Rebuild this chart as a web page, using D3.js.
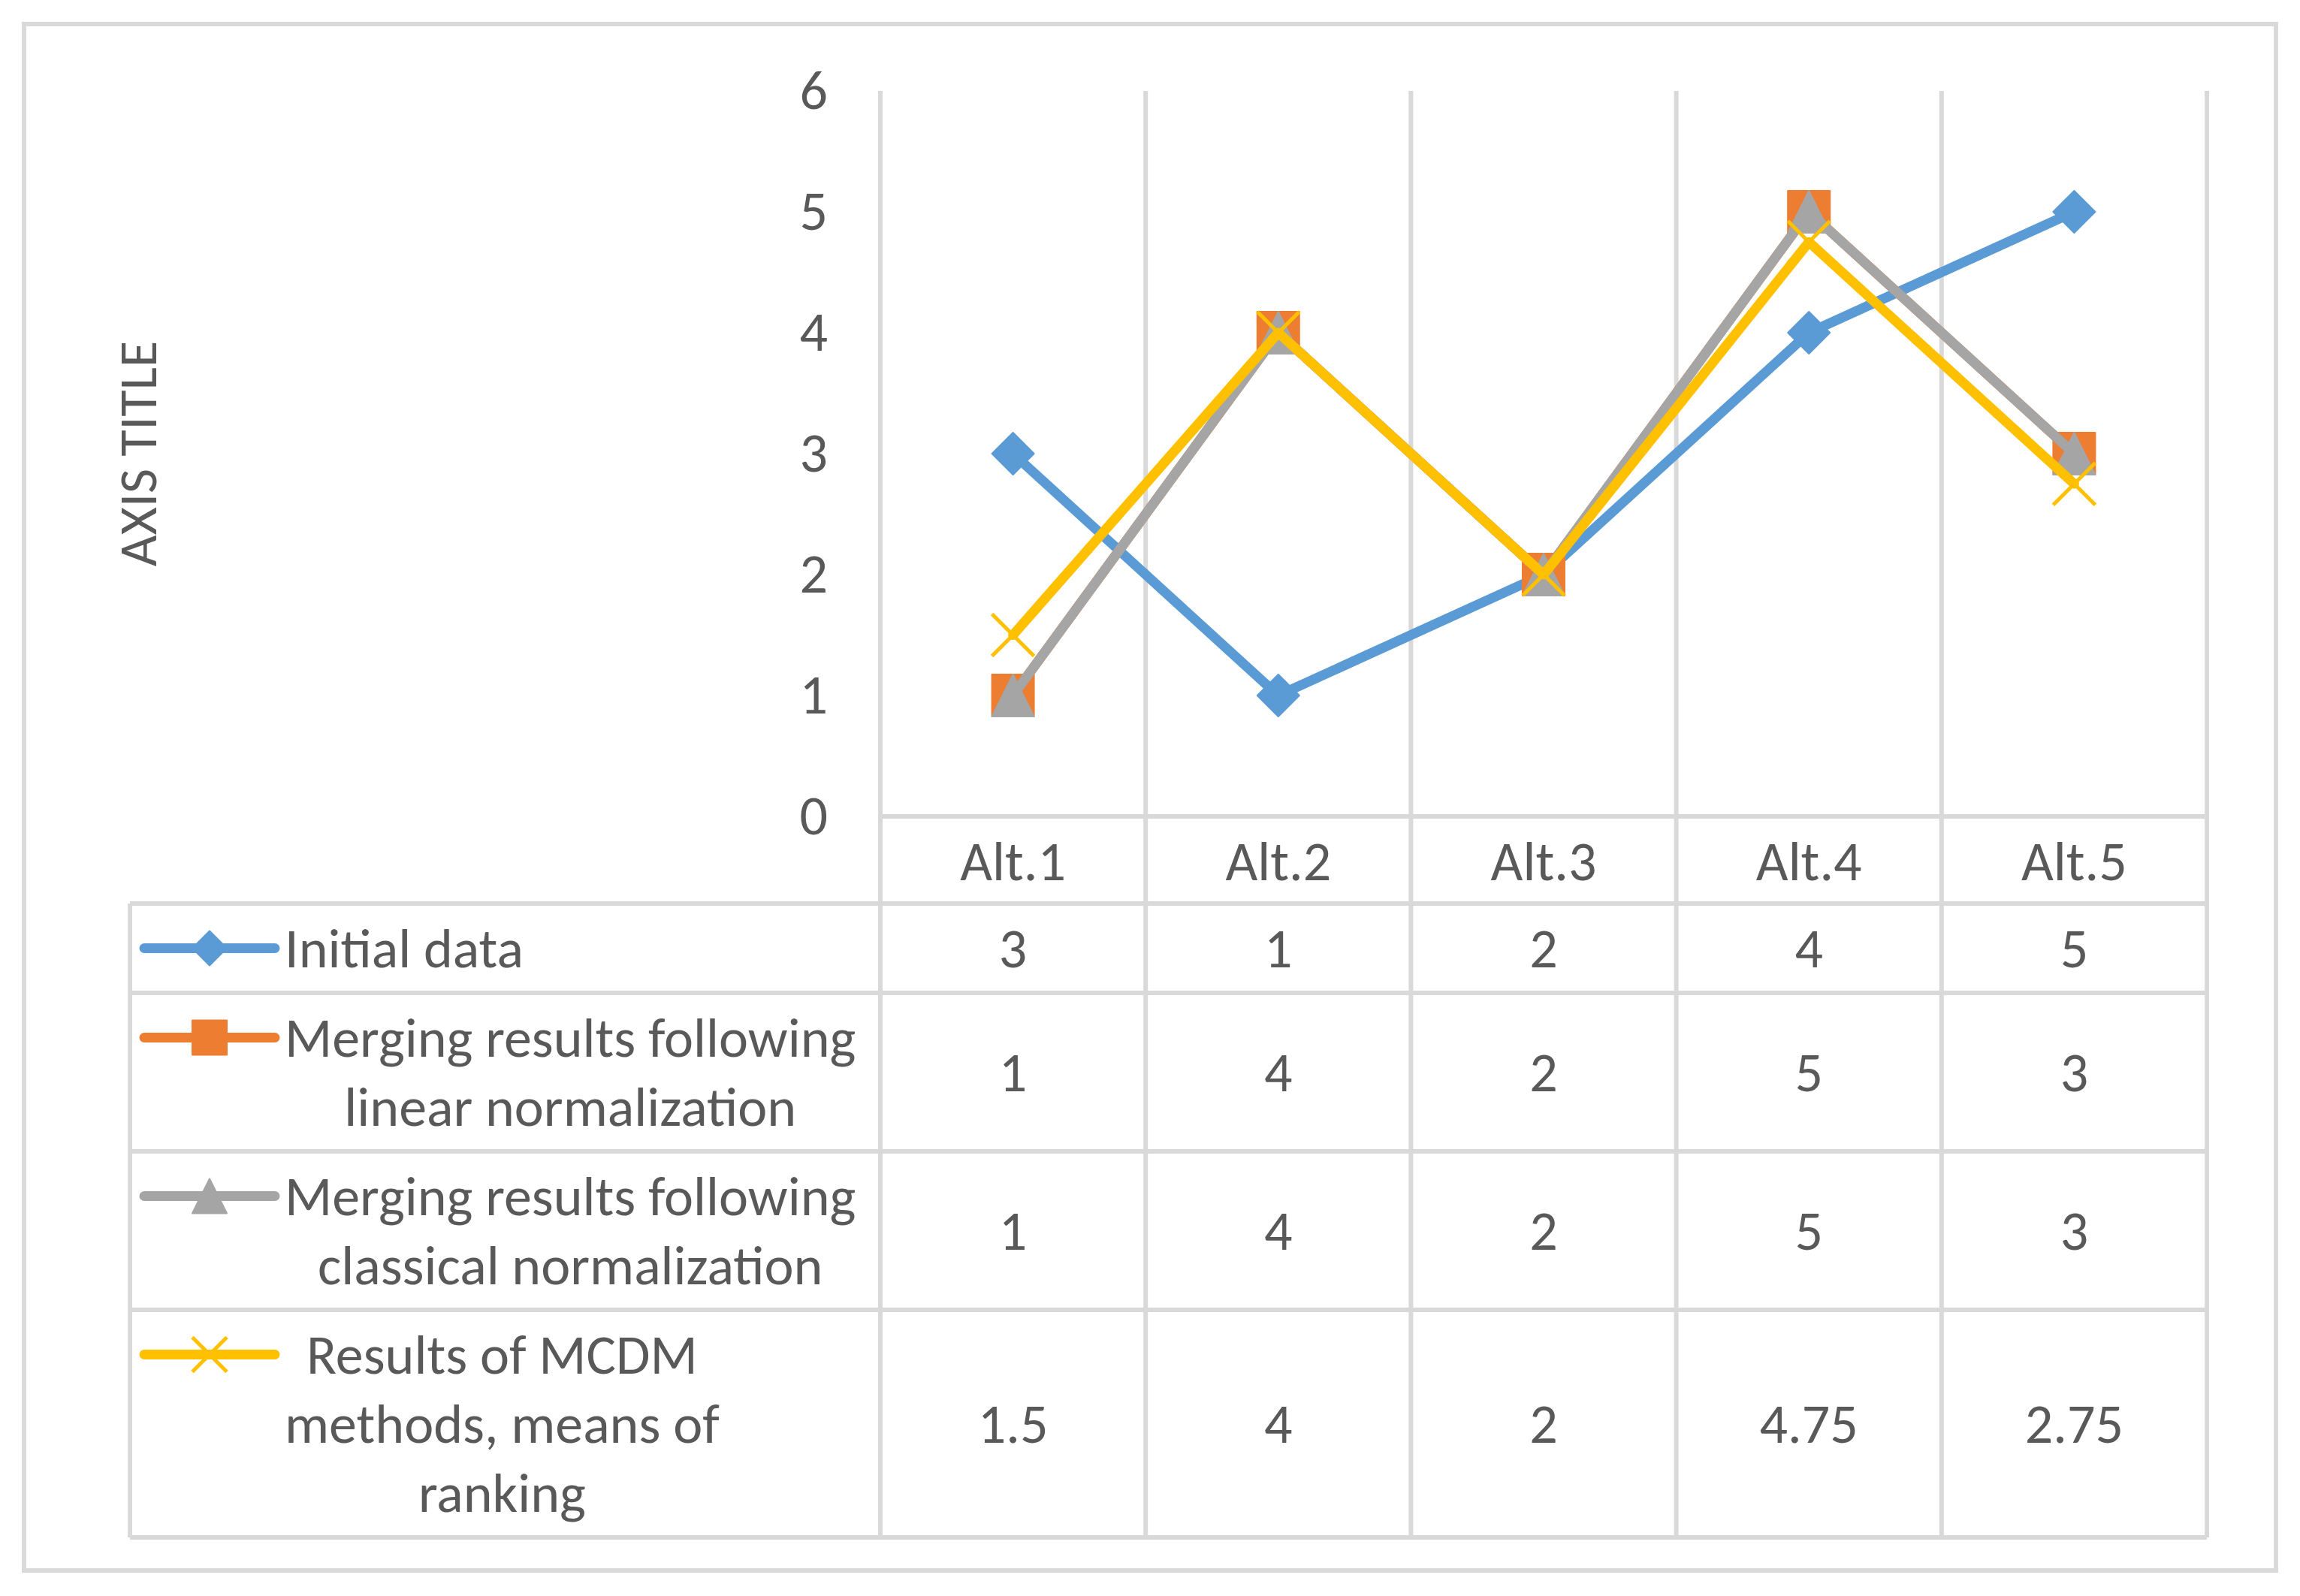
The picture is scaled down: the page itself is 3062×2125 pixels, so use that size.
<!DOCTYPE html>
<html>
<head>
<meta charset="utf-8">
<script src="https://cdn.jsdelivr.net/npm/d3@7"></script>
<style>
  body { margin: 0; background: #fff; }
  svg text { font-family: Carlito, Calibri, Lato, sans-serif; fill: #595959; }
</style>
</head>
<body>
<div id="chart"></div>
<script>
// chart values
var categories = ["Alt.1", "Alt.2", "Alt.3", "Alt.4", "Alt.5"];
var yTicks = [0, 1, 2, 3, 4, 5, 6];
var initialData = [3, 1, 2, 4, 5];
var linearNorm = [1, 4, 2, 5, 3];
var classicalNorm = [1, 4, 2, 5, 3];
var mcdmMeans = [1.5, 4, 2, 4.75, 2.75];
var labelLines = [
    ["Initial data"],
    ["Merging results following", "linear normalization"],
    ["Merging results following", "classical normalization"],
    ["Results of MCDM", "methods, means of", "ranking"]
];
var seriesColors = ["#5B9BD5", "#ED7D31", "#A5A5A5", "#FFC000"];
var seriesMarkers = ["diamond", "square", "triangle", "cross"];
var seriesValues = [initialData, linearNorm, classicalNorm, mcdmMeans];

var W = 3062, H = 2125;
var grid = "#D9D9D9";
var fontSize = 74;
var lineH = 92;

var svg = d3.select("#chart").append("svg")
    .attr("width", W)
    .attr("height", H);

// outer chart border
svg.append("rect")
    .attr("x", 32).attr("y", 32)
    .attr("width", 2998).attr("height", 2059)
    .attr("fill", "none")
    .attr("stroke", grid)
    .attr("stroke-width", 6);

var x = d3.scaleBand().domain(categories).range([1172, 2938]);
var y = d3.scaleLinear().domain([0, 6]).range([1087, 121]);

// rows of the data table
var tableTop = 1203;
var rows = [];
var acc = tableTop;
labelLines.forEach(function(lines, i) {
    var h = lineH * lines.length + 27;
    rows.push({ top: acc, h: h, lines: lines, i: i });
    acc += h;
});
var tableBottom = acc;

// vertical gridlines (category boundaries), running down through the table
var bounds = categories.map(function(c) { return x(c); }).concat([x.range()[1]]);
svg.append("g").selectAll("line")
    .data(bounds)
    .enter().append("line")
    .attr("x1", d => d).attr("x2", d => d)
    .attr("y1", y(6)).attr("y2", tableBottom)
    .attr("stroke", grid).attr("stroke-width", 6);

// x axis line
svg.append("line")
    .attr("x1", x.range()[0]).attr("x2", x.range()[1])
    .attr("y1", y(0)).attr("y2", y(0))
    .attr("stroke", grid).attr("stroke-width", 6);

// table horizontal lines + left border
var hLines = [tableTop].concat(rows.map(r => r.top + r.h));
svg.append("g").selectAll("line")
    .data(hLines)
    .enter().append("line")
    .attr("x1", 173).attr("x2", x.range()[1])
    .attr("y1", d => d).attr("y2", d => d)
    .attr("stroke", grid).attr("stroke-width", 6);
svg.append("line")
    .attr("x1", 173).attr("x2", 173)
    .attr("y1", tableTop).attr("y2", tableBottom)
    .attr("stroke", grid).attr("stroke-width", 6);

// y axis labels
var yAxis = svg.append("g")
    .attr("transform", "translate(" + x.range()[0] + ",0)")
    .call(d3.axisLeft(y).tickValues(yTicks).tickFormat(d3.format("d")).tickSize(0).tickPadding(70));
yAxis.select(".domain").remove();
yAxis.selectAll("text")
    .attr("font-size", fontSize)
    .attr("fill", "#595959");
yAxis.attr("font-family", null);

// category labels
var xAxis = svg.append("g")
    .attr("transform", "translate(0," + y(0) + ")")
    .call(d3.axisBottom(x).tickSize(0).tickPadding(0));
xAxis.select(".domain").remove();
xAxis.attr("font-family", null);
xAxis.selectAll("text")
    .attr("y", 59)
    .attr("dy", "0.35em")
    .attr("font-size", fontSize)
    .attr("fill", "#595959");

// axis title
svg.append("text")
    .attr("transform", "translate(183," + (y(3)) + ") rotate(-90)")
    .attr("text-anchor", "middle")
    .attr("dy", "0.35em")
    .attr("font-size", fontSize - 2)
    .text("AXIS TITLE");

// marker shapes
function markerPath(type, s) {
    var h = s / 2;
    if (type === "diamond") return "M0," + (-h) + "L" + h + ",0L0," + h + "L" + (-h) + ",0Z";
    if (type === "square") return "M" + (-h) + "," + (-h) + "H" + h + "V" + h + "H" + (-h) + "Z";
    if (type === "triangle") return "M0," + (-h) + "L" + h + "," + h + "L" + (-h) + "," + h + "Z";
    return "M" + (-h) + "," + (-h) + "L" + h + "," + h + "M" + h + "," + (-h) + "L" + (-h) + "," + h;
}
function drawMarker(g, type, color, s) {
    var p = g.append("path").attr("d", markerPath(type, s));
    if (type === "cross") {
        p.attr("fill", "none").attr("stroke", color).attr("stroke-width", 5);
    } else {
        p.attr("fill", color).attr("stroke", color).attr("stroke-width", 2).attr("stroke-linejoin", "round");
    }
}

// series lines and markers
var line = d3.line()
    .x((d, i) => x(categories[i]) + x.bandwidth() / 2)
    .y(d => y(d));

seriesValues.forEach(function(vals, si) {
    var g = svg.append("g");
    g.append("path")
        .datum(vals)
        .attr("d", line)
        .attr("fill", "none")
        .attr("stroke", seriesColors[si])
        .attr("stroke-width", 13)
        .attr("stroke-linejoin", "round")
        .attr("stroke-linecap", "round");
    vals.forEach(function(v, i) {
        var mg = g.append("g")
            .attr("transform", "translate(" + (x(categories[i]) + x.bandwidth() / 2) + "," + y(v) + ")");
        drawMarker(mg, seriesMarkers[si], seriesColors[si], 56);
    });
});

// table rows: legend key, label text, values
rows.forEach(function(r) {
    var si = r.i;
    var cy = r.top + r.h / 2;
    var firstY = cy - (r.lines.length - 1) * lineH / 2;

    var key = svg.append("g");
    key.append("line")
        .attr("x1", 192).attr("x2", 366)
        .attr("y1", firstY).attr("y2", firstY)
        .attr("stroke", seriesColors[si])
        .attr("stroke-width", 13)
        .attr("stroke-linecap", "round");
    var mg = key.append("g").attr("transform", "translate(279," + firstY + ")");
    drawMarker(mg, seriesMarkers[si], seriesColors[si], 46);

    var texts = svg.append("g").selectAll("text")
        .data(r.lines)
        .enter().append("text")
        .attr("y", (d, k) => firstY + k * lineH)
        .attr("dy", "0.35em")
        .attr("font-size", fontSize)
        .attr("text-anchor", "middle")
        .text(d => d);
    var maxW = 0;
    texts.each(function() { maxW = Math.max(maxW, this.getComputedTextLength()); });
    texts.attr("x", 379 + maxW / 2);

    svg.append("g").selectAll("text")
        .data(seriesValues[si])
        .enter().append("text")
        .attr("x", (d, i) => x(categories[i]) + x.bandwidth() / 2)
        .attr("y", cy)
        .attr("dy", "0.35em")
        .attr("text-anchor", "middle")
        .attr("font-size", fontSize)
        .text(d => d);
});
</script>
</body>
</html>
